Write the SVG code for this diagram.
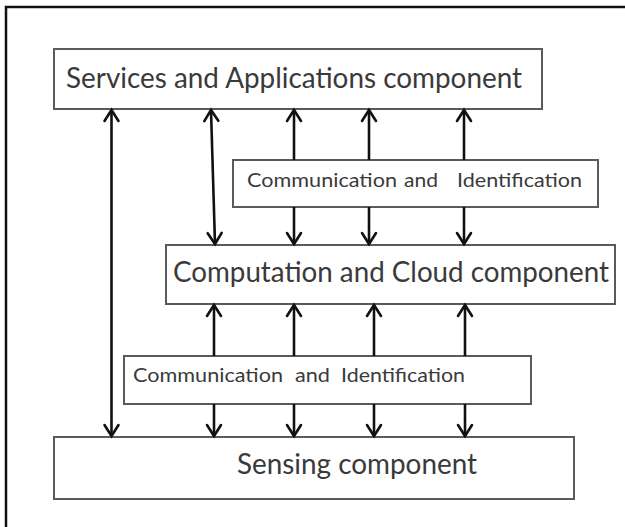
<svg xmlns="http://www.w3.org/2000/svg" width="625" height="527" viewBox="0 0 625 527">
  <defs>
    <marker id="ah" markerUnits="userSpaceOnUse" markerWidth="20" markerHeight="20" refX="0" refY="0" orient="auto-start-reverse" overflow="visible">
      <path d="M-11,-7 L0,0 L-11,7" fill="none" stroke="#111" stroke-width="2.6" stroke-linejoin="miter" stroke-linecap="round"/>
    </marker>
  </defs>
  <style>
    .box { fill: #ffffff; stroke: #5a5a5a; stroke-width: 2; }
    .lbl { font-family: Lato, "Open Sans", "Liberation Sans", sans-serif; fill: #3a3a3a; }
    .big { font-size: 28px; }
    .small { font-size: 20px; }
    .conn line { stroke: #111; stroke-width: 2.6; fill: none; }
    .frame { stroke: #111; stroke-width: 2.5; fill: none; }
  </style>
  <rect width="625" height="527" fill="#ffffff"/>
  <path class="frame" d="M6,527 L6,7 L625,7"/>

  <g id="services">
    <rect class="box" x="54" y="49" width="488" height="60"/>
    <text class="lbl big" x="66" y="88" textLength="456" lengthAdjust="spacingAndGlyphs">Services and Applications component</text>
  </g>

  <g id="comm-top">
    <rect class="box" x="233" y="160" width="365" height="47"/>
    <text class="lbl small" y="187"><tspan x="247" textLength="150" lengthAdjust="spacingAndGlyphs">Communication</tspan><tspan x="404" textLength="34" lengthAdjust="spacingAndGlyphs">and</tspan><tspan x="457" textLength="125" lengthAdjust="spacingAndGlyphs">Identification</tspan></text>
  </g>

  <g id="computation">
    <rect class="box" x="166" y="245" width="449" height="59"/>
    <text class="lbl big" x="173" y="282" textLength="436" lengthAdjust="spacingAndGlyphs">Computation and Cloud component</text>
  </g>

  <g id="comm-bottom">
    <rect class="box" x="124" y="356" width="407" height="48"/>
    <text class="lbl small" y="382"><tspan x="133" textLength="150" lengthAdjust="spacingAndGlyphs">Communication</tspan><tspan x="295" textLength="35" lengthAdjust="spacingAndGlyphs">and</tspan><tspan x="341" textLength="124" lengthAdjust="spacingAndGlyphs">Identification</tspan></text>
  </g>

  <g id="sensing">
    <rect class="box" x="54" y="437" width="520" height="62"/>
    <text class="lbl big" x="237" y="474" textLength="240" lengthAdjust="spacingAndGlyphs">Sensing component</text>
  </g>

  <g id="connectors" class="conn">
    <line x1="111.5" y1="110" x2="111.5" y2="436" marker-start="url(#ah)" marker-end="url(#ah)"/>
    <line x1="211" y1="110" x2="215" y2="244" marker-start="url(#ah)" marker-end="url(#ah)"/>

    <line x1="294" y1="160" x2="294" y2="110" marker-end="url(#ah)"/>
    <line x1="369" y1="160" x2="369" y2="110" marker-end="url(#ah)"/>
    <line x1="464" y1="160" x2="464" y2="110" marker-end="url(#ah)"/>

    <line x1="294" y1="207" x2="294" y2="244" marker-end="url(#ah)"/>
    <line x1="369" y1="207" x2="369" y2="244" marker-end="url(#ah)"/>
    <line x1="464" y1="207" x2="464" y2="244" marker-end="url(#ah)"/>

    <line x1="214" y1="356" x2="214" y2="305" marker-end="url(#ah)"/>
    <line x1="294" y1="356" x2="294" y2="305" marker-end="url(#ah)"/>
    <line x1="374" y1="356" x2="374" y2="305" marker-end="url(#ah)"/>
    <line x1="465" y1="356" x2="465" y2="305" marker-end="url(#ah)"/>

    <line x1="214" y1="404" x2="214" y2="436" marker-end="url(#ah)"/>
    <line x1="294" y1="404" x2="294" y2="436" marker-end="url(#ah)"/>
    <line x1="374" y1="404" x2="374" y2="436" marker-end="url(#ah)"/>
    <line x1="465" y1="404" x2="465" y2="436" marker-end="url(#ah)"/>
  </g>
</svg>
